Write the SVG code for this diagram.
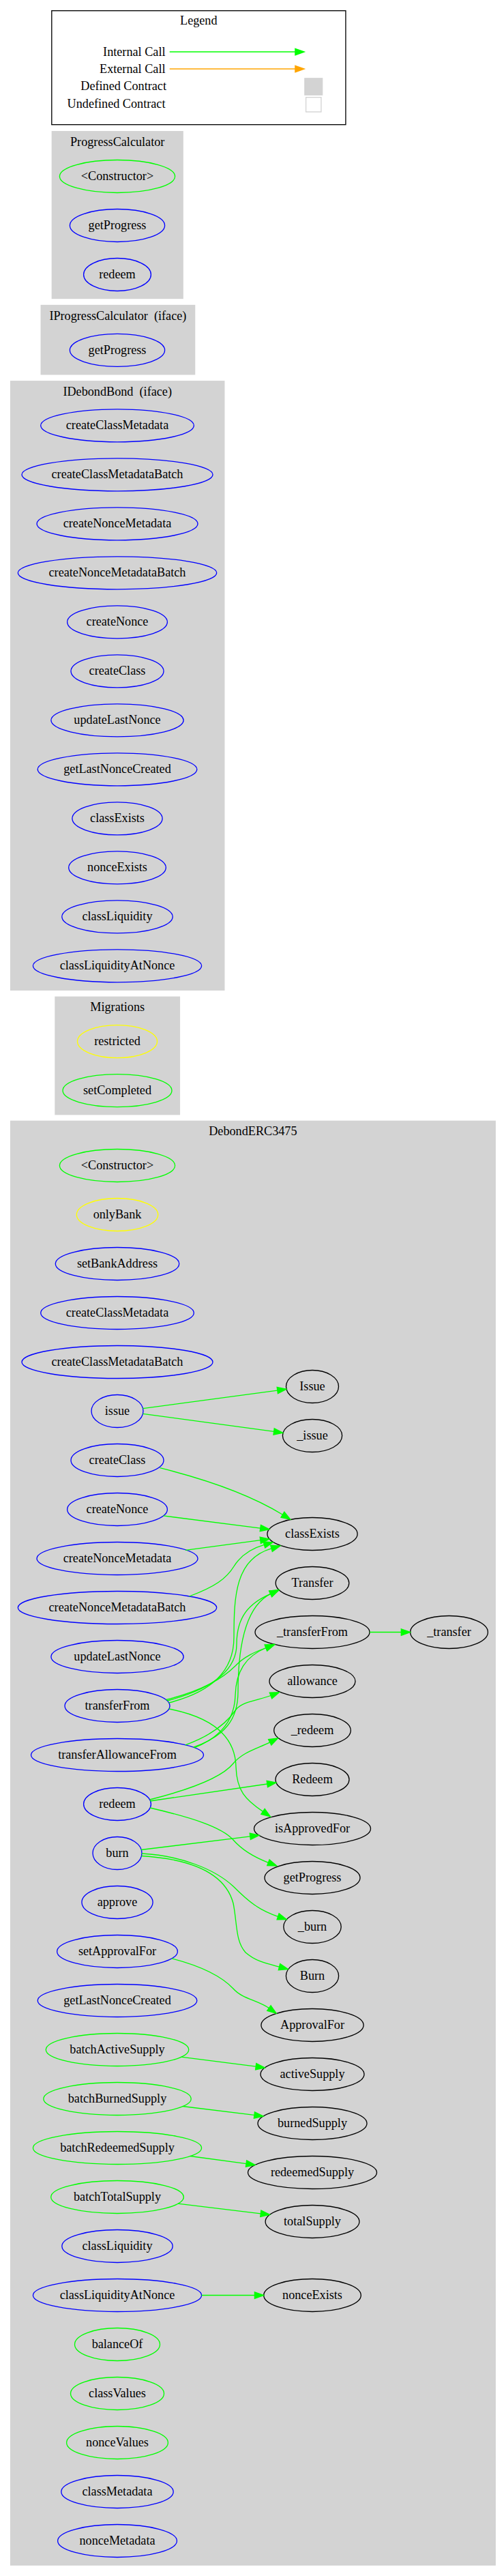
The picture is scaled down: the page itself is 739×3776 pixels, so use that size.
<svg xmlns="http://www.w3.org/2000/svg" width="739" height="3776" viewBox="0 0 739 3776">
<style>
text{font-family:"Liberation Serif","Times New Roman",serif;font-size:18.2px;fill:#000;text-anchor:middle}
.cl{fill:#d3d3d3;stroke:#d3d3d3;stroke-width:1.33}
ellipse{fill:none;stroke-width:1.33}
.b{stroke:#0000ff}.g{stroke:#00ff00}.y{stroke:#ffff00}.k{stroke:#000000}
.e{fill:none;stroke:#00ff00;stroke-width:1.33;marker-end:url(#ag)}
.r{text-anchor:end}
</style>
<defs>
<marker id="ag" markerUnits="userSpaceOnUse" markerWidth="15" markerHeight="11" refX="0" refY="4.7" orient="auto" overflow="visible"><path d="M0,0 L13.3,4.7 L0,9.4 z" fill="#00ff00" stroke="#00ff00" stroke-width="1.33"/></marker>
<marker id="ao" markerUnits="userSpaceOnUse" markerWidth="15" markerHeight="11" refX="0" refY="4.7" orient="auto" overflow="visible"><path d="M0,0 L13.3,4.7 L0,9.4 z" fill="#ffa500" stroke="#ffa500" stroke-width="1.33"/></marker>
</defs>
<rect width="739" height="3776" fill="#ffffff"/>

<g id="legend">
<rect x="75.8" y="15.7" width="431.1" height="167" fill="#ffffff" stroke="#000000" stroke-width="1.33"/>
<text x="291.3" y="36">Legend</text>
<text class="r" x="242.5" y="81.7">Internal Call</text>
<text class="r" x="242.5" y="106.7">External Call</text>
<text class="r" x="244" y="131.7">Defined Contract</text>
<text class="r" x="242.5" y="157.7">Undefined Contract</text>
<path d="M248.7,76 L432.9,76" fill="none" stroke="#00ff00" stroke-width="1.33" marker-end="url(#ag)"/>
<path d="M248.7,101 L432.9,101" fill="none" stroke="#ffa500" stroke-width="1.33" marker-end="url(#ao)"/>
<rect x="446.7" y="114.7" width="26.1" height="24.6" fill="#d3d3d3" stroke="#d3d3d3"/>
<rect x="448.6" y="142.7" width="22.3" height="21.3" fill="#ffffff" stroke="#d3d3d3" stroke-width="1.33"/>
</g>

<g id="cluster_ProgressCalculator">
<rect class="cl" x="76.3" y="192.7" width="191.8" height="244.8"/>
<text x="172.2" y="213.7">ProgressCalculator</text>
<g id="PC_constructor"><ellipse class="g" cx="172" cy="258.5" rx="84.6" ry="24"/><text x="172" y="264">&lt;Constructor&gt;</text></g>
<g id="PC_getProgress"><ellipse class="b" cx="172" cy="330.5" rx="69.6" ry="24"/><text x="172" y="336">getProgress</text></g>
<g id="PC_redeem"><ellipse class="b" cx="172" cy="402.5" rx="49.4" ry="24"/><text x="172" y="408">redeem</text></g>
</g>

<g id="cluster_IProgressCalculator">
<rect class="cl" x="60.2" y="447.5" width="225.4" height="101.3"/>
<text x="172.9" y="468.5" xml:space="preserve">IProgressCalculator  (iface)</text>
<g id="IPC_getProgress"><ellipse class="b" cx="172" cy="513.3" rx="69.6" ry="24"/><text x="172" y="518.8">getProgress</text></g>
</g>

<g id="cluster_IDebondBond">
<rect class="cl" x="15.6" y="558.8" width="313.2" height="892.5"/>
<text x="172.2" y="579.8" xml:space="preserve">IDebondBond  (iface)</text>
<g id="IDB_createClassMetadata"><ellipse class="b" cx="172" cy="623.8" rx="112.3" ry="24"/><text x="172" y="629.3">createClassMetadata</text></g>
<g id="IDB_createClassMetadataBatch"><ellipse class="b" cx="172" cy="695.8" rx="140" ry="24"/><text x="172" y="701.3">createClassMetadataBatch</text></g>
<g id="IDB_createNonceMetadata"><ellipse class="b" cx="172" cy="767.8" rx="118" ry="24"/><text x="172" y="773.3">createNonceMetadata</text></g>
<g id="IDB_createNonceMetadataBatch"><ellipse class="b" cx="172" cy="839.8" rx="145.7" ry="24"/><text x="172" y="845.3">createNonceMetadataBatch</text></g>
<g id="IDB_createNonce"><ellipse class="b" cx="172" cy="911.8" rx="73.4" ry="24"/><text x="172" y="917.3">createNonce</text></g>
<g id="IDB_createClass"><ellipse class="b" cx="172" cy="983.8" rx="68" ry="24"/><text x="172" y="989.3">createClass</text></g>
<g id="IDB_updateLastNonce"><ellipse class="b" cx="172" cy="1055.8" rx="97.1" ry="24"/><text x="172" y="1061.3">updateLastNonce</text></g>
<g id="IDB_getLastNonceCreated"><ellipse class="b" cx="172" cy="1127.8" rx="116.8" ry="24"/><text x="172" y="1133.3">getLastNonceCreated</text></g>
<g id="IDB_classExists"><ellipse class="b" cx="172" cy="1199.8" rx="66.1" ry="24"/><text x="172" y="1205.3">classExists</text></g>
<g id="IDB_nonceExists"><ellipse class="b" cx="172" cy="1271.8" rx="71.3" ry="24"/><text x="172" y="1277.3">nonceExists</text></g>
<g id="IDB_classLiquidity"><ellipse class="b" cx="172" cy="1343.8" rx="81.2" ry="24"/><text x="172" y="1349.3">classLiquidity</text></g>
<g id="IDB_classLiquidityAtNonce"><ellipse class="b" cx="172" cy="1415.8" rx="123.6" ry="24"/><text x="172" y="1421.3">classLiquidityAtNonce</text></g>
</g>

<g id="cluster_Migrations">
<rect class="cl" x="81" y="1461.3" width="182.4" height="172.4"/>
<text x="172.2" y="1482.3">Migrations</text>
<g id="M_restricted"><ellipse class="y" cx="172" cy="1526.6" rx="58.5" ry="24"/><text x="172" y="1532.1">restricted</text></g>
<g id="M_setCompleted"><ellipse class="g" cx="172" cy="1598.6" rx="80" ry="24"/><text x="172" y="1604.1">setCompleted</text></g>
</g>

<g id="cluster_DebondERC3475">
<rect class="cl" x="15.6" y="1643.3" width="710.6" height="2116.7"/>
<text x="370.9" y="1664.3">DebondERC3475</text>
</g>

<g id="D_constructor"><ellipse class="g" cx="172" cy="1708.5" rx="84.6" ry="24"/><text x="172" y="1714">&lt;Constructor&gt;</text></g>
<g id="D_onlyBank"><ellipse class="y" cx="172" cy="1780.5" rx="59.7" ry="24"/><text x="172" y="1786">onlyBank</text></g>
<g id="D_setBankAddress"><ellipse class="b" cx="172" cy="1852.5" rx="90.7" ry="24"/><text x="172" y="1858">setBankAddress</text></g>
<g id="D_createClassMetadata"><ellipse class="b" cx="172" cy="1924.5" rx="112.3" ry="24"/><text x="172" y="1930">createClassMetadata</text></g>
<g id="D_createClassMetadataBatch"><ellipse class="b" cx="172" cy="1996.5" rx="140" ry="24"/><text x="172" y="2002">createClassMetadataBatch</text></g>
<g id="D_issue"><ellipse class="b" cx="172" cy="2068.5" rx="38" ry="24"/><text x="172" y="2074">issue</text></g>
<g id="D_createClass"><ellipse class="b" cx="172" cy="2140.5" rx="68" ry="24"/><text x="172" y="2146">createClass</text></g>
<g id="D_createNonce"><ellipse class="b" cx="172" cy="2212.5" rx="73.4" ry="24"/><text x="172" y="2218">createNonce</text></g>
<g id="D_createNonceMetadata"><ellipse class="b" cx="172" cy="2284.5" rx="118" ry="24"/><text x="172" y="2290">createNonceMetadata</text></g>
<g id="D_createNonceMetadataBatch"><ellipse class="b" cx="172" cy="2356.5" rx="145.7" ry="24"/><text x="172" y="2362">createNonceMetadataBatch</text></g>
<g id="D_updateLastNonce"><ellipse class="b" cx="172" cy="2428.5" rx="97.1" ry="24"/><text x="172" y="2434">updateLastNonce</text></g>
<g id="D_transferFrom"><ellipse class="b" cx="172" cy="2500.5" rx="77" ry="24"/><text x="172" y="2506">transferFrom</text></g>
<g id="D_transferAllowanceFrom"><ellipse class="b" cx="172" cy="2572.5" rx="126.5" ry="24"/><text x="172" y="2578">transferAllowanceFrom</text></g>
<g id="D_redeem"><ellipse class="b" cx="172" cy="2644.5" rx="49.4" ry="24"/><text x="172" y="2650">redeem</text></g>
<g id="D_burn"><ellipse class="b" cx="172" cy="2716.5" rx="36" ry="24"/><text x="172" y="2722">burn</text></g>
<g id="D_approve"><ellipse class="b" cx="172" cy="2788.5" rx="52.1" ry="24"/><text x="172" y="2794">approve</text></g>
<g id="D_setApprovalFor"><ellipse class="b" cx="172" cy="2860.5" rx="88.4" ry="24"/><text x="172" y="2866">setApprovalFor</text></g>
<g id="D_getLastNonceCreated"><ellipse class="b" cx="172" cy="2932.5" rx="116.8" ry="24"/><text x="172" y="2938">getLastNonceCreated</text></g>
<g id="D_batchActiveSupply"><ellipse class="g" cx="172" cy="3004.5" rx="104.7" ry="24"/><text x="172" y="3010">batchActiveSupply</text></g>
<g id="D_batchBurnedSupply"><ellipse class="g" cx="172" cy="3076.5" rx="108.2" ry="24"/><text x="172" y="3082">batchBurnedSupply</text></g>
<g id="D_batchRedeemedSupply"><ellipse class="g" cx="172" cy="3148.5" rx="123.6" ry="24"/><text x="172" y="3154">batchRedeemedSupply</text></g>
<g id="D_batchTotalSupply"><ellipse class="g" cx="172" cy="3220.5" rx="97.3" ry="24"/><text x="172" y="3226">batchTotalSupply</text></g>
<g id="D_classLiquidity"><ellipse class="b" cx="172" cy="3292.5" rx="81.2" ry="24"/><text x="172" y="3298">classLiquidity</text></g>
<g id="D_classLiquidityAtNonce"><ellipse class="b" cx="172" cy="3364.5" rx="123.6" ry="24"/><text x="172" y="3370">classLiquidityAtNonce</text></g>
<g id="D_balanceOf"><ellipse class="g" cx="172" cy="3436.5" rx="62.5" ry="24"/><text x="172" y="3442">balanceOf</text></g>
<g id="D_classValues"><ellipse class="g" cx="172" cy="3508.5" rx="68.5" ry="24"/><text x="172" y="3514">classValues</text></g>
<g id="D_nonceValues"><ellipse class="g" cx="172" cy="3580.5" rx="74.4" ry="24"/><text x="172" y="3586">nonceValues</text></g>
<g id="D_classMetadata"><ellipse class="b" cx="172" cy="3652.5" rx="82.2" ry="24"/><text x="172" y="3658">classMetadata</text></g>
<g id="D_nonceMetadata"><ellipse class="b" cx="172" cy="3724.5" rx="87.4" ry="24"/><text x="172" y="3730">nonceMetadata</text></g>

<g id="D_Issue"><ellipse class="k" cx="458" cy="2032.5" rx="38.5" ry="24"/><text x="458" y="2038">Issue</text></g>
<g id="D__issue"><ellipse class="k" cx="458" cy="2104.5" rx="43.6" ry="24"/><text x="458" y="2110">_issue</text></g>
<g id="D_classExists"><ellipse class="k" cx="458" cy="2248.5" rx="66.1" ry="24"/><text x="458" y="2254">classExists</text></g>
<g id="D_Transfer"><ellipse class="k" cx="458" cy="2320.5" rx="53.8" ry="24"/><text x="458" y="2326">Transfer</text></g>
<g id="D__transferFrom"><ellipse class="k" cx="458" cy="2392.5" rx="84" ry="24"/><text x="458" y="2398">_transferFrom</text></g>
<g id="D__transfer"><ellipse class="k" cx="658.5" cy="2392.5" rx="56.9" ry="24"/><text x="658.5" y="2398">_transfer</text></g>
<g id="D_allowance"><ellipse class="k" cx="458" cy="2464.5" rx="63" ry="24"/><text x="458" y="2470">allowance</text></g>
<g id="D__redeem"><ellipse class="k" cx="458" cy="2536.5" rx="56.3" ry="24"/><text x="458" y="2542">_redeem</text></g>
<g id="D_Redeem"><ellipse class="k" cx="458" cy="2608.5" rx="54" ry="24"/><text x="458" y="2614">Redeem</text></g>
<g id="D_isApprovedFor"><ellipse class="k" cx="458" cy="2680.5" rx="85.5" ry="24"/><text x="458" y="2686">isApprovedFor</text></g>
<g id="D_getProgress"><ellipse class="k" cx="458" cy="2752.5" rx="70" ry="24"/><text x="458" y="2758">getProgress</text></g>
<g id="D__burn"><ellipse class="k" cx="458" cy="2824.5" rx="42.2" ry="24"/><text x="458" y="2830">_burn</text></g>
<g id="D_Burn"><ellipse class="k" cx="458" cy="2896.5" rx="38.6" ry="24"/><text x="458" y="2902">Burn</text></g>
<g id="D_ApprovalFor"><ellipse class="k" cx="458" cy="2968.5" rx="75.1" ry="24"/><text x="458" y="2974">ApprovalFor</text></g>
<g id="D_activeSupply"><ellipse class="k" cx="458" cy="3040.5" rx="76" ry="24"/><text x="458" y="3046">activeSupply</text></g>
<g id="D_burnedSupply"><ellipse class="k" cx="458" cy="3112.5" rx="80" ry="24"/><text x="458" y="3118">burnedSupply</text></g>
<g id="D_redeemedSupply"><ellipse class="k" cx="458" cy="3184.5" rx="94.5" ry="24"/><text x="458" y="3190">redeemedSupply</text></g>
<g id="D_totalSupply"><ellipse class="k" cx="458" cy="3256.5" rx="68.9" ry="24"/><text x="458" y="3262">totalSupply</text></g>
<g id="D_nonceExists"><ellipse class="k" cx="458" cy="3364.5" rx="71.3" ry="24"/><text x="458" y="3370">nonceExists</text></g>

<g id="edges">
<path class="e" d="M209.5,2064.6 L406.8,2038.1"/>
<path class="e" d="M209.5,2072.4 L401.6,2098.4"/>
<path class="e" d="M234.5,2151.7 C300,2168 365,2190 414.4,2220.2"/>
<path class="e" d="M239.5,2221.9 L381.8,2240.1"/>
<path class="e" d="M271.9,2272.3 L381.8,2257.7"/>
<path class="e" d="M277.5,2340 C315,2326 332,2314 343,2296 C353,2280 368,2270 387.4,2264.4"/>
<path class="e" d="M247.6,2496 C310,2480 343,2450 343,2400 C343,2340 345,2285 398,2269.8"/>
<path class="e" d="M245.2,2493 C310,2476 347,2450 347,2410 C347,2370 365,2350 396.7,2336.3"/>
<path class="e" d="M283.5,2561.2 C330,2545 349,2520 349,2480 C349,2400 365,2352 396.7,2336.3"/>
<path class="e" d="M243.4,2491.5 C290,2480 325,2462 345,2442 C358,2428 375,2421 390,2415.5"/>
<path class="e" d="M285.2,2561.8 C325,2546 344,2520 345,2485 C346,2450 360,2428 390,2415.5"/>
<path class="e" d="M542,2392.5 L588.3,2392.5"/>
<path class="e" d="M271.9,2557.8 C310,2544 333,2525 346,2506 C355,2494 380,2492 397,2485.5"/>
<path class="e" d="M247.6,2505 C310,2517 345,2545 346,2590 C347,2625 360,2638 385.5,2655.4"/>
<path class="e" d="M219.6,2638 C275,2624 325,2606 342,2585 C356,2568 378,2563 395.7,2553.9"/>
<path class="e" d="M220.2,2640 L391.8,2615"/>
<path class="e" d="M220.1,2650 C280,2664 325,2678 342,2697 C355,2712 372,2722 393.4,2730.3"/>
<path class="e" d="M206.9,2711.5 L366.8,2691.9"/>
<path class="e" d="M208,2717 C265,2720 315,2740 342,2765 C365,2788 380,2800 407.6,2809.3"/>
<path class="e" d="M207.5,2720.5 C280,2725 330,2745 342,2790 C348,2820 345,2845 360,2862 C375,2875 390,2878 409.5,2883.1"/>
<path class="e" d="M251.9,2870.8 C295,2882 325,2897 342,2915 C355,2930 378,2932 394.4,2943.6"/>
<path class="e" d="M265.5,3015.2 L375.2,3029.2"/>
<path class="e" d="M267.8,3087.5 L372.9,3100.4"/>
<path class="e" d="M278.7,3160.5 L361,3171.6"/>
<path class="e" d="M260.7,3230.2 L382.3,3244.8"/>
<path class="e" d="M295.6,3364.5 L373.4,3364.5"/>
</g>
</svg>
